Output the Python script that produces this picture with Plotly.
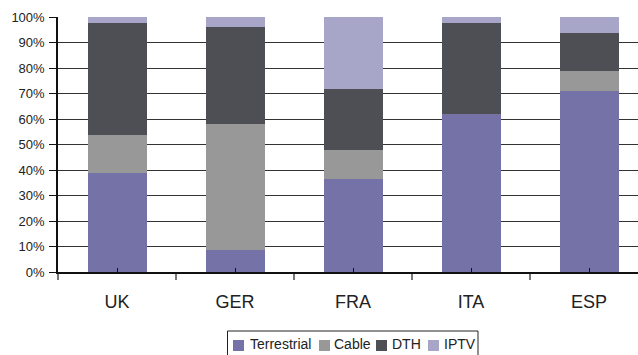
import plotly.graph_objects as go

# Share of TV households by reception platform (%)
countries = ["UK", "GER", "FRA", "ITA", "ESP"]
terrestrial = [38.7, 8.5, 36.4, 61.8, 70.9]
cable = [14.9, 49.4, 11.3, 0.0, 7.8]
dth = [44.0, 38.1, 23.9, 35.7, 14.9]
iptv = [2.4, 4.0, 28.4, 2.5, 6.4]

series_names = ["Terrestrial", "Cable", "DTH", "IPTV"]
series_values = [terrestrial, cable, dth, iptv]
series_colors = ["#7572A8", "#989898", "#4E4F54", "#A7A6C8"]

y_tick_values = [0, 10, 20, 30, 40, 50, 60, 70, 80, 90, 100]
y_tick_labels = ["0%", "10%", "20%", "30%", "40%", "50%",
                 "60%", "70%", "80%", "90%", "100%"]

FONT = "Liberation Sans, Arial, sans-serif"
TEXT = "#222222"

W, H = 638, 355
ML, MR, MT, MB = 58, 0, 17, 83

fig = go.Figure()
for name, vals, col in zip(series_names, series_values, series_colors):
    fig.add_trace(go.Bar(x=countries, y=vals, name=name, marker_color=col,
                         marker_line_width=0, showlegend=False))

# invisible trace so the overlay axis carrying the centre ticks is drawn
fig.add_trace(go.Scatter(x=[0], y=[0], xaxis="x2", mode="markers",
                         marker_opacity=0, showlegend=False, hoverinfo="skip"))

x_range = [-0.5, 4.415]

fig.update_layout(
    width=W, height=H,
    margin=dict(l=ML, r=MR, t=MT, b=MB, pad=0),
    paper_bgcolor="white", plot_bgcolor="white",
    barmode="stack", bargap=0.5,
    font=dict(family=FONT, color=TEXT),
    xaxis=dict(
        type="category", range=x_range, tickson="boundaries",
        ticks="outside", ticklen=6, tickcolor="#777777", tickwidth=1.5,
        showline=True, linecolor="#111111", linewidth=1.5,
        showgrid=False, tickfont=dict(size=18, color=TEXT, family=FONT),
        ticklabelstandoff=13,
    ),
    xaxis2=dict(
        overlaying="x", anchor="y", range=x_range, tickvals=list(range(5)),
        ticks="inside", ticklen=4, tickcolor="#111111", tickwidth=1,
        showticklabels=False, showgrid=False, zeroline=False, showline=False,
    ),
    yaxis=dict(
        range=[0, 100], tickmode="array",
        tickvals=y_tick_values, ticktext=y_tick_labels,
        ticks="outside", ticklen=7, tickcolor="#111111",
        showline=True, linecolor="#111111", linewidth=1.5,
        showgrid=True, gridcolor="#333333", gridwidth=1, zeroline=False,
        tickfont=dict(size=13, color=TEXT, family=FONT),
        ticklabelstandoff=2,
    ),
)

# legend box drawn below the plot
plot_w = W - ML - MR
plot_h = H - MT - MB


def px_x(p):
    return (p - ML) / plot_w


def px_y(p):
    return (H - MB - p) / plot_h


fig.add_shape(type="rect", xref="paper", yref="paper",
              x0=px_x(227.5), x1=px_x(478), y0=px_y(331), y1=px_y(362),
              line=dict(color="#222222", width=1), fillcolor="white")

swatch_left = [233, 319, 376, 428]
text_left = [249, 333, 391, 443]
for name, col, sx, tx in zip(series_names, series_colors, swatch_left, text_left):
    fig.add_shape(type="rect", xref="paper", yref="paper",
                  x0=px_x(sx), x1=px_x(sx + 11), y0=px_y(340), y1=px_y(351),
                  line_width=0, fillcolor=col)
    fig.add_annotation(xref="paper", yref="paper", x=px_x(tx), y=px_y(344.5),
                       xanchor="left", yanchor="middle", text=name,
                       showarrow=False, borderpad=0,
                       font=dict(size=14, color=TEXT, family=FONT))

fig.write_html("out.html")
